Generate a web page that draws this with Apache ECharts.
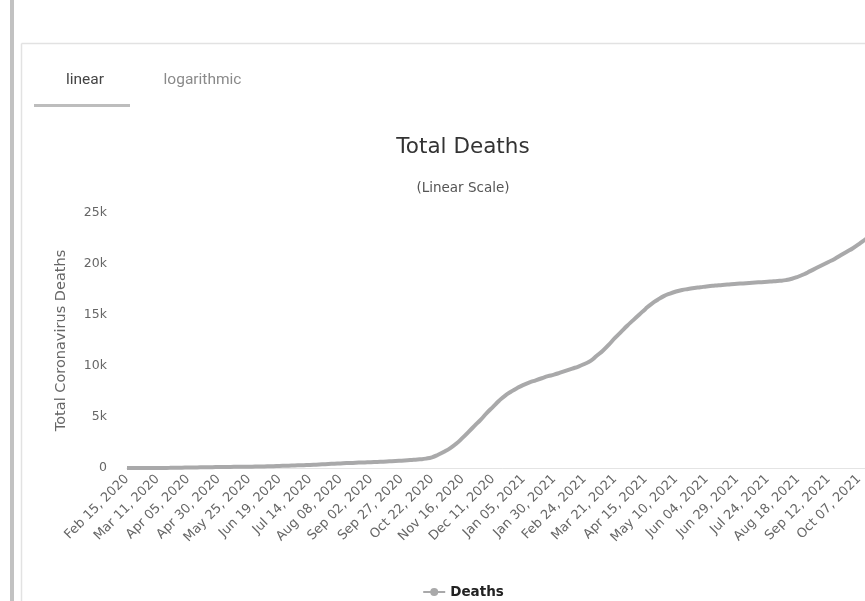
<!DOCTYPE html>
<html>
<head>
<meta charset="utf-8">
<script src="https://cdn.jsdelivr.net/npm/echarts@6/dist/echarts.min.js"></script>
<style>
  html, body { margin: 0; padding: 0; width: 865px; height: 601px; overflow: hidden; background: #fff; }
  #chart { position: absolute; left: 0; top: 0; width: 926px; height: 601px; }
</style>
</head>
<body>
<div id="chart"></div>
<script>
// ---- data ----
const startDate = '2020-02-15';
const stepDays = 5;
const seriesName = 'Deaths';
const deaths = [
  0, 0, 0, 0, 3, 5, 10, 15, 25, 35,
  45, 55, 65, 75, 85, 95, 100, 110, 115, 125,
  130, 140, 150, 165, 180, 200, 220, 240, 260, 280,
  300, 330, 360, 390, 420, 450, 480, 500, 530, 550,
  570, 600, 620, 650, 680, 720, 760, 800, 850, 920,
  1050, 1300, 1600, 1950, 2400, 2950, 3550, 4150, 4750, 5400,
  6000, 6600, 7100, 7500, 7850, 8150, 8400, 8600, 8800, 9000,
  9150, 9350, 9550, 9750, 9950, 10200, 10500, 11000, 11500, 12100,
  12750, 13350, 13950, 14500, 15050, 15600, 16100, 16500, 16850, 17100,
  17300, 17450, 17550, 17650, 17720, 17800, 17860, 17920, 17970, 18020,
  18060, 18100, 18140, 18180, 18220, 18260, 18300, 18350, 18420, 18550,
  18750, 19000, 19300, 19600, 19900, 20200, 20500, 20850, 21200, 21550,
  21950, 22400, 22850, 23300
];
const yTicks = [0, 5000, 10000, 15000, 20000, 25000];
const tabLabels = ['linear', 'logarithmic'];
const titleText = 'Total Deaths';
const subtitleText = '(Linear Scale)';
const yAxisName = 'Total Coronavirus Deaths';

// category labels: one every stepDays days from startDate
const months = ['Jan','Feb','Mar','Apr','May','Jun','Jul','Aug','Sep','Oct','Nov','Dec'];
const categories = deaths.map((_, i) => {
  const d = new Date(startDate + 'T00:00:00Z');
  d.setUTCDate(d.getUTCDate() + i * stepDays);
  const dd = String(d.getUTCDate()).padStart(2, '0');
  return months[d.getUTCMonth()] + ' ' + dd + ', ' + d.getUTCFullYear();
});

const chart = echarts.init(document.getElementById('chart'), null, { renderer: 'canvas' });
const font = 'DejaVu Sans, Verdana, sans-serif';

chart.setOption({
  animation: false,
  backgroundColor: '#ffffff',
  title: [
    { text: titleText, left: 'center', top: 131,
      textStyle: { fontFamily: font, fontSize: 21.5, fontWeight: 'normal', color: '#333333' } },
    { text: subtitleText, left: 'center', top: 176,
      textStyle: { fontFamily: font, fontSize: 13.5, fontWeight: 'normal', color: '#555555' } }
  ],
  graphic: [
    { type: 'rect', shape: { x: 10, y: 0, width: 4, height: 601 }, style: { fill: '#c2c2c2' }, silent: true },
    { type: 'line', shape: { x1: 21.5, y1: 43.5, x2: 926, y2: 43.5 }, style: { stroke: '#e2e2e2', lineWidth: 1.5 }, silent: true },
    { type: 'line', shape: { x1: 21.5, y1: 43.5, x2: 21.5, y2: 601 }, style: { stroke: '#e2e2e2', lineWidth: 1.5 }, silent: true },
    { type: 'text', x: 85, y: 80, style: { text: tabLabels[0], font: '15.5px Roboto, sans-serif', fill: '#444444', align: 'center', verticalAlign: 'middle' } },
    { type: 'text', x: 202.5, y: 80, style: { text: tabLabels[1], font: '15.5px Roboto, sans-serif', fill: '#8a8a8a', align: 'center', verticalAlign: 'middle' } },
    { type: 'rect', shape: { x: 34, y: 104, width: 96, height: 3 }, style: { fill: '#bdbdbd' }, silent: true }
  ],
  legend: {
    data: [seriesName],
    left: 'center',
    top: 580,
    itemWidth: 22,
    itemHeight: 10,
    itemGap: 6,
    textStyle: { fontFamily: font, fontSize: 13.5, fontWeight: 'bold', color: '#222222' }
  },
  grid: { left: 127, right: 48.7, top: 213, bottom: 133, containLabel: false },
  xAxis: {
    type: 'category',
    data: categories,
    boundaryGap: false,
    axisLine: { lineStyle: { color: '#e4e4e4', width: 1 } },
    axisTick: { show: false },
    axisLabel: {
      interval: 4,
      rotate: 45,
      margin: 9,
      fontFamily: font,
      fontSize: 13,
      color: '#666666'
    },
    splitLine: { show: false }
  },
  yAxis: {
    type: 'value',
    min: yTicks[0],
    max: yTicks[yTicks.length - 1],
    interval: yTicks[1] - yTicks[0],
    name: yAxisName,
    nameLocation: 'middle',
    nameGap: 58,
    nameTextStyle: { fontFamily: font, fontSize: 14.5, color: '#666666' },
    axisLine: { show: false },
    axisTick: { show: false },
    axisLabel: {
      margin: 20,
      fontFamily: font,
      fontSize: 12.5,
      color: '#666666',
      formatter: v => v === 0 ? '0' : (v / 1000) + 'k'
    },
    splitLine: { show: false }
  },
  series: [{
    name: seriesName,
    type: 'line',
    data: deaths,
    smooth: true,
    showSymbol: false,
    symbol: 'circle',
    symbolSize: 8,
    lineStyle: { color: '#a9a9aa', width: 4 },
    itemStyle: { color: '#a9a9aa' }
  }]
});
</script>
</body>
</html>
